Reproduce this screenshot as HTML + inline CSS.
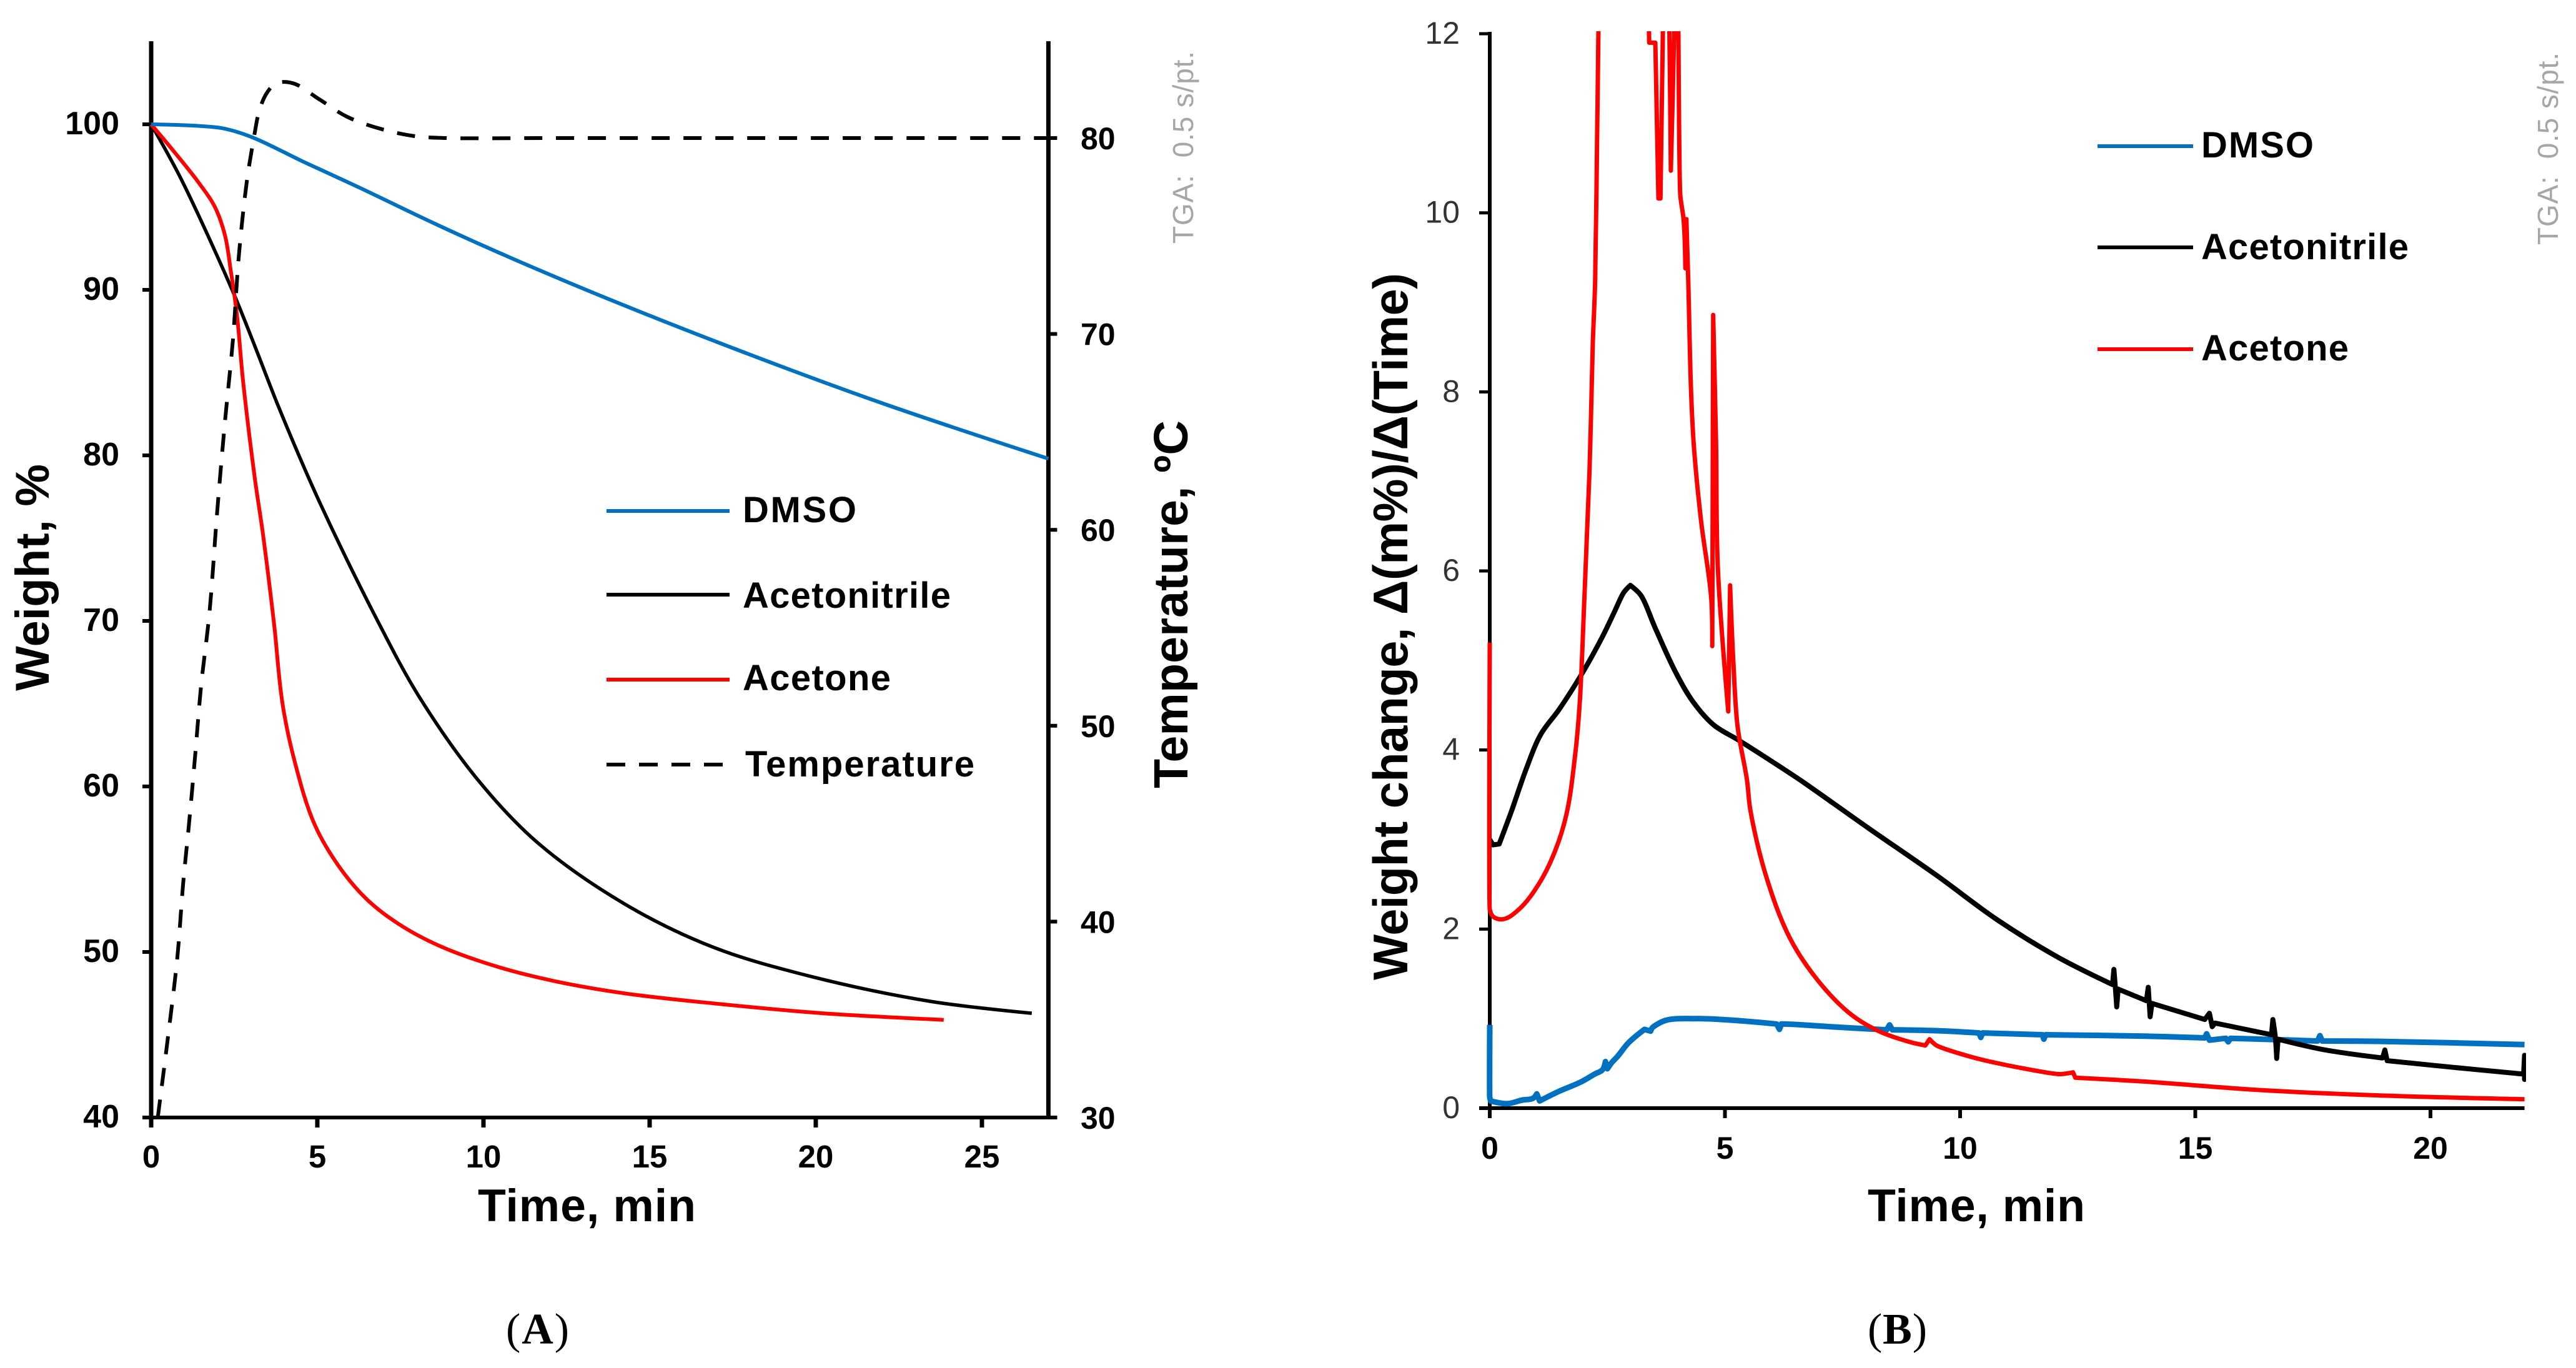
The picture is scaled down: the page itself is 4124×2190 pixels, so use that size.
<!DOCTYPE html>
<html lang="en">
<head>
<meta charset="utf-8">
<title>TGA weight loss and weight change charts</title>
<style>
html,body{margin:0;padding:0;background:#fff;}
svg{display:block;}
text{font-family:"Liberation Sans",Arial,sans-serif;fill:#000;}
.b{font-weight:700;}
.cap{font-family:"Liberation Serif",serif;font-size:70px;}
.grey{fill:#a6a6a6;font-size:46px;white-space:pre;}
.leg{font-weight:700;font-size:58px;}
</style>
</head>
<body>
<svg id="root" xmlns="http://www.w3.org/2000/svg" width="4124" height="2190" viewBox="0 0 4124 2190">
  <defs>
    <clipPath id="clipB"><rect x="2370" y="50" width="1674" height="1740"></rect></clipPath>
  </defs>
  <rect x="0" y="0" width="4124" height="2190" fill="#fff"></rect>

  <g id="panelA">
    <g id="axesA"></g>
    <g id="seriesA"></g>
    <text class="b" font-size="76" x="78" y="1106" textLength="363" transform="rotate(-90 78 1106)">Weight, %</text>
    <text class="b" font-size="77" x="1901" y="1262" textLength="589" transform="rotate(-90 1901 1262)">Temperature, ºC</text>
    <text class="b" font-size="73.5" x="765" y="1955" textLength="349">Time, min</text>
    <text class="grey" x="1910" y="390" textLength="308" transform="rotate(-90 1910 390)">TGA:  0.5 s/pt.</text>
    <g>
      <line x1="971" x2="1168" y1="818" y2="818" stroke="#0070c0" stroke-width="6"></line>
      <text class="leg" x="1189" y="836" textLength="182">DMSO</text>
      <line x1="971" x2="1168" y1="952" y2="952" stroke="#000" stroke-width="6"></line>
      <text class="leg" x="1189" y="973" textLength="333">Acetonitrile</text>
      <line x1="971" x2="1168" y1="1088" y2="1088" stroke="#ff0000" stroke-width="6"></line>
      <text class="leg" x="1189" y="1105" textLength="237">Acetone</text>
      <line x1="971" x2="1157" y1="1224" y2="1224" stroke="#000" stroke-width="6" stroke-dasharray="30 22"></line>
      <text class="leg" x="1193" y="1243" textLength="367">Temperature</text>
    </g>
    <text class="cap" x="810" y="2151" textLength="101">(<tspan class="b">A</tspan>)</text>
  </g>

  <g id="panelB">
    <g id="axesB"></g>
    <g id="seriesB" clip-path="url(#clipB)"></g>
    <text class="b" font-size="77.5" x="2253" y="1569" textLength="1132" transform="rotate(-90 2253 1569)">Weight change, Δ(m%)/Δ(Time)</text>
    <text class="b" font-size="73.5" x="2990" y="1955" textLength="348">Time, min</text>
    <text class="grey" x="4095" y="392" textLength="308" transform="rotate(-90 4095 392)">TGA:  0.5 s/pt.</text>
    <g>
      <line x1="3358" x2="3511" y1="234" y2="234" stroke="#0070c0" stroke-width="6"></line>
      <text class="leg" x="3524" y="252" textLength="180">DMSO</text>
      <line x1="3358" x2="3511" y1="396" y2="396" stroke="#000" stroke-width="6"></line>
      <text class="leg" x="3524" y="415" textLength="332">Acetonitrile</text>
      <line x1="3358" x2="3511" y1="559" y2="559" stroke="#ff0000" stroke-width="6"></line>
      <text class="leg" x="3524" y="577" textLength="236">Acetone</text>
    </g>
    <text class="cap" x="2990" y="2151" textLength="95">(<tspan class="b">B</tspan>)</text>
  </g>
</svg>

<script>
// ---- Panel A data ----
const aTimeTicks = [0, 5, 10, 15, 20, 25];
const aWeightTicks = [100, 90, 80, 70, 60, 50, 40];
const aTempTicks = [80, 70, 60, 50, 40, 30];

const aDmsoTime = [0, 1.44, 2.16, 3.0, 4.56, 6.24, 8.64, 11.03, 14.25, 18.2, 22, 27];
const aDmsoWeight = [100, 99.9, 99.76, 99.25, 97.76, 96.2, 93.9, 91.75, 89.05, 85.95, 83.15, 79.8];

const aAcnTime = [0, 0.85, 1.68, 2.52, 3.12, 3.84, 5.04, 6.84, 8.04, 9.83, 11.63, 14.25, 16.9, 19.9, 23.5, 26.5];
const aAcnWeight = [100, 96.9, 93.4, 89.6, 86.6, 82.9, 77.3, 69.9, 65.5, 60.4, 56.6, 52.9, 50.3, 48.5, 47.0, 46.3];

const aAcetoneTime = [0, 0.73, 1.44, 1.92, 2.22, 2.4, 2.58, 2.76, 3.12, 3.36, 3.7, 3.96, 4.32, 4.92, 5.64, 6.48, 7.44, 8.64, 10.43, 12.23, 14.25, 16.9, 20.2, 23.85];
const aAcetoneWeight = [100, 98.25, 96.45, 95.0, 93.3, 91.1, 88.5, 84.6, 78.6, 75.3, 69.8, 64.9, 61.5, 57.7, 55.2, 53.2, 51.7, 50.4, 49.1, 48.2, 47.5, 46.9, 46.3, 45.9];

const aTempTime = [0.2, 0.49, 0.79, 0.96, 1.14, 1.32, 1.5, 1.75, 1.99, 2.22, 2.46, 2.64, 2.88, 3.12, 3.24, 3.48, 3.78, 4.26, 5.04, 5.88, 6.84, 7.92, 8.88, 12, 18, 27];
const aTempValue = [30, 33.9, 38.2, 41.9, 45.0, 48.4, 52.0, 55.7, 61, 65.5, 69.7, 74, 77.8, 80.3, 81.3, 82.3, 82.8, 82.8, 82.0, 81.1, 80.5, 80.1, 80.0, 80.0, 80.0, 80.0];

// ---- Panel B data ----
const bTimeTicks = [0, 5, 10, 15, 20];
const bRateTicks = [0, 2, 4, 6, 8, 10, 12];

const bDmsoTime = [0, 0, 0.02, 0.37, 0.69, 0.92, 1.0, 1.06, 1.48, 1.93, 2.23, 2.4, 2.46, 2.5, 2.58, 2.72, 2.95, 3.29, 3.42, 3.46, 3.74, 4.36, 4.93, 5.69, 6.1, 6.16, 6.2, 6.48, 7.23, 8.07, 8.44, 8.5, 8.56, 9.5, 10.4, 10.44, 10.48, 11.75, 11.78, 11.82, 13.83, 15.2, 15.24, 15.3, 15.65, 15.7, 15.75, 16.4, 17.6, 17.65, 17.7, 19, 22];
const bDmsoRate = [0.93, 0.12, 0.08, 0.05, 0.09, 0.11, 0.16, 0.08, 0.19, 0.29, 0.38, 0.43, 0.52, 0.44, 0.5, 0.58, 0.73, 0.88, 0.86, 0.9, 0.98, 1.0, 0.99, 0.96, 0.94, 0.88, 0.94, 0.935, 0.91, 0.885, 0.875, 0.93, 0.875, 0.865, 0.84, 0.79, 0.84, 0.82, 0.77, 0.82, 0.805, 0.785, 0.83, 0.76, 0.78, 0.74, 0.78, 0.77, 0.75, 0.81, 0.75, 0.745, 0.71];

const bAcnTime = [0, 0.07, 0.2, 0.45, 0.79, 1.09, 1.47, 1.98, 2.4, 2.63, 2.85, 2.99, 3.21, 3.52, 3.96, 4.32, 4.76, 5.29, 6.18, 6.64, 8.07, 9.5, 10.8, 12.1, 13.24, 13.27, 13.3, 13.33, 13.36, 13.96, 14.0, 14.04, 14.08, 15.2, 15.3, 15.36, 15.42, 16.62, 16.65, 16.7, 16.73, 16.76, 17.7, 18.98, 19.03, 19.08, 20.5, 21.98, 22, 22, 22];
const bAcnRate = [3.0, 2.94, 2.95, 3.3, 3.81, 4.18, 4.45, 4.87, 5.27, 5.52, 5.76, 5.84, 5.73, 5.36, 4.86, 4.54, 4.28, 4.11, 3.81, 3.65, 3.12, 2.6, 2.1, 1.68, 1.38, 1.55, 1.35, 1.13, 1.33, 1.2, 1.35, 1.02, 1.17, 0.99, 1.06, 0.91, 0.95, 0.82, 0.99, 0.8, 0.555, 0.77, 0.656, 0.56, 0.65, 0.53, 0.455, 0.38, 0.59, 0.32, 0.377];

const bAcetoneTime = [0, 0, 0.07, 0.28, 0.62, 1.05, 1.38, 1.63, 1.81, 1.91, 2.01, 2.12, 2.19, 2.24, 2.28, 2.31, 2.33, 3.36, 3.39, 3.5, 3.52, 3.585, 3.63, 3.68, 3.7, 3.8, 3.82, 3.85, 3.92, 3.93, 4.0, 4.01, 4.05, 4.12, 4.16, 4.18, 4.22, 4.28, 4.34, 4.49, 4.71, 4.73, 4.75, 4.81, 4.85, 5.07, 5.11, 5.18, 5.27, 5.47, 5.54, 5.87, 6.38, 6.97, 7.65, 8.25, 8.92, 9.26, 9.35, 9.5, 10.36, 12.1, 12.4, 12.45, 13.83, 16.43, 19, 22];
const bAcetoneRate = [5.2, 2.22, 2.14, 2.11, 2.22, 2.51, 2.86, 3.28, 3.92, 4.5, 5.68, 7.1, 8.53, 9.23, 10.75, 12, 12.6, 12.6, 11.9, 11.9, 11.9, 10.16, 10.16, 12.0, 12.6, 12.6, 12.0, 10.47, 12.0, 12.6, 12.6, 12.0, 10.2, 9.93, 9.38, 9.93, 9.24, 8.0, 7.39, 6.57, 5.68, 5.16, 8.86, 7.46, 6.03, 4.43, 5.84, 4.97, 4.26, 3.66, 3.33, 2.6, 1.9, 1.43, 1.06, 0.865, 0.74, 0.7, 0.77, 0.7, 0.555, 0.38, 0.4, 0.34, 0.3, 0.2, 0.14, 0.1];

// ---- Axis functions ----
function xA(t) { return 242 + 53.2 * t; }
function yWeight(w) { return 199 + (100 - w) * 26.5; }
function yTemp(c) { return 1789 - (c - 30) * 31.36; }
function xB(t) { return 2385 + 75.3 * t; }
function yRate(r) { return 1774 - r * 143.33; }

const NS = 'http://www.w3.org/2000/svg';

function make(tag, parent, attrs) {
  const el = document.createElementNS(NS, tag);
  for (const k in attrs) { el.setAttribute(k, attrs[k]); }
  parent.appendChild(el);
  return el;
}

// Smooth curve through the points; sharp turns stay as corners so spikes are kept.
function smoothPath(xs, ys) {
  const n = xs.length, tx = [], ty = [], seg = [];
  for (let i = 0; i < n - 1; i++) { seg[i] = Math.hypot(xs[i + 1] - xs[i], ys[i + 1] - ys[i]); }
  for (let i = 0; i < n; i++) {
    tx[i] = 0; ty[i] = 0;
    if (i === 0 || i === n - 1) continue;
    const ax = xs[i] - xs[i - 1], ay = ys[i] - ys[i - 1];
    const bx = xs[i + 1] - xs[i], by = ys[i + 1] - ys[i];
    const la = seg[i - 1], lb = seg[i];
    if (la < 0.01 || lb < 0.01) continue;
    if ((ax * bx + ay * by) / (la * lb) < 0.6) continue;
    const mx = ax / la + bx / lb, my = ay / la + by / lb, lm = Math.hypot(mx, my);
    tx[i] = mx / lm; ty[i] = my / lm;
  }
  let d = 'M' + xs[0].toFixed(1) + ' ' + ys[0].toFixed(1);
  for (let i = 0; i < n - 1; i++) {
    const prev = i > 0 ? seg[i - 1] : seg[i], next = i < n - 2 ? seg[i + 1] : seg[i];
    const hOut = Math.min(seg[i] / 3, prev * 0.6), hIn = Math.min(seg[i] / 3, next * 0.6);
    d += 'C' + (xs[i] + tx[i] * hOut).toFixed(1) + ' ' + (ys[i] + ty[i] * hOut).toFixed(1) + ' ' +
      (xs[i + 1] - tx[i + 1] * hIn).toFixed(1) + ' ' + (ys[i + 1] - ty[i + 1] * hIn).toFixed(1) + ' ' +
      xs[i + 1].toFixed(1) + ' ' + ys[i + 1].toFixed(1);
  }
  return d;
}

// ---- Panel A axes ----
const axesA = document.getElementById('axesA');
const seriesA = document.getElementById('seriesA');
const axesB = document.getElementById('axesB');
const seriesB = document.getElementById('seriesB');

const aLeftAxis = make('line', axesA, { x1: xA(0), x2: xA(0), y1: 66, y2: yWeight(40) + 15, stroke: '#000', 'stroke-width': 7 });


const aRightAxis = make('line', axesA, { x1: xA(27), x2: xA(27), y1: 66, y2: yWeight(40) + 3, stroke: '#000', 'stroke-width': 7 });


const aBottomAxis = make('line', axesA, { x1: xA(0) - 14, x2: xA(27) + 14, y1: yWeight(40), y2: yWeight(40), stroke: '#000', 'stroke-width': 6 });



aTimeTicks.forEach(function (t) {
  const tick = make('line', axesA, { x1: xA(t), x2: xA(t), y1: 1789, y2: 1805, stroke: '#000', 'stroke-width': 7 });
  
  
  const label = make('text', axesA, { x: xA(t), y: 1869, 'text-anchor': 'middle', 'font-size': 51, 'font-weight': 700 });
  label.textContent = t;
  
  
});
aWeightTicks.forEach(function (w) {
  const tick = make('line', axesA, { x1: xA(0) - 14, x2: xA(0), y1: yWeight(w), y2: yWeight(w), stroke: '#000', 'stroke-width': 6 });
  
  
  const label = make('text', axesA, { x: 191, y: yWeight(w) + 16, 'text-anchor': 'end', 'font-size': 52, 'font-weight': 700 });
  label.textContent = w;
  
  
});
aTempTicks.forEach(function (c) {
  const tick = make('line', axesA, { x1: xA(27), x2: xA(27) + 14, y1: yTemp(c), y2: yTemp(c), stroke: '#000', 'stroke-width': 6 });
  
  
  const label = make('text', axesA, { x: 1730, y: yTemp(c) + 18, 'font-size': 50, 'font-weight': 700 });
  label.textContent = c;
  
  
});

// ---- Panel A series ----
const lineAcnA = make('path', seriesA, { d: smoothPath(aAcnTime.map(xA), aAcnWeight.map(yWeight)), fill: 'none', stroke: '#000', 'stroke-width': 5.5 });


const lineAcetoneA = make('path', seriesA, { d: smoothPath(aAcetoneTime.map(xA), aAcetoneWeight.map(yWeight)), fill: 'none', stroke: '#ff0000', 'stroke-width': 6 });


const lineTempA = make('path', seriesA, { d: smoothPath(aTempTime.map(xA), aTempValue.map(yTemp)), fill: 'none', stroke: '#000', 'stroke-width': 6, 'stroke-dasharray': '29 22' });


const lineDmsoA = make('path', seriesA, { d: smoothPath(aDmsoTime.map(xA), aDmsoWeight.map(yWeight)), fill: 'none', stroke: '#0070c0', 'stroke-width': 6 });



// ---- Panel B axes ----
const bLeftAxis = make('line', axesB, { x1: xB(0), x2: xB(0), y1: yRate(12) - 3, y2: yRate(0) + 16, stroke: '#000', 'stroke-width': 6 });


const bBottomAxis = make('line', axesB, { x1: xB(0) - 17, x2: xB(22), y1: yRate(0), y2: yRate(0), stroke: '#000', 'stroke-width': 6 });



bTimeTicks.forEach(function (t) {
  const tick = make('line', axesB, { x1: xB(t), x2: xB(t), y1: 1774, y2: 1790, stroke: '#000', 'stroke-width': 6 });
  
  
  const label = make('text', axesB, { x: xB(t), y: 1855, 'text-anchor': 'middle', 'font-size': 50, 'font-weight': 700 });
  label.textContent = t;
  
  
});
bRateTicks.forEach(function (r) {
  const tick = make('line', axesB, { x1: xB(0) - 17, x2: xB(0), y1: yRate(r), y2: yRate(r), stroke: '#000', 'stroke-width': 5 });
  
  
  const label = make('text', axesB, { x: 2337, y: yRate(r) + 16, 'text-anchor': 'end', 'font-size': 50 });
  label.style.fill = '#333';
  label.textContent = r;
  
  
});

// ---- Panel B series ----
const lineDmsoB = make('path', seriesB, { d: smoothPath(bDmsoTime.map(xB), bDmsoRate.map(yRate)), fill: 'none', stroke: '#0070c0', 'stroke-width': 9, 'stroke-linejoin': 'round' });


const lineAcnB = make('path', seriesB, { d: smoothPath(bAcnTime.map(xB), bAcnRate.map(yRate)), fill: 'none', stroke: '#000', 'stroke-width': 8, 'stroke-linejoin': 'round' });


const lineAcetoneB = make('path', seriesB, { d: smoothPath(bAcetoneTime.map(xB), bAcetoneRate.map(yRate)), fill: 'none', stroke: '#ff0000', 'stroke-width': 7, 'stroke-linejoin': 'round' });


</script>
</body>
</html>
